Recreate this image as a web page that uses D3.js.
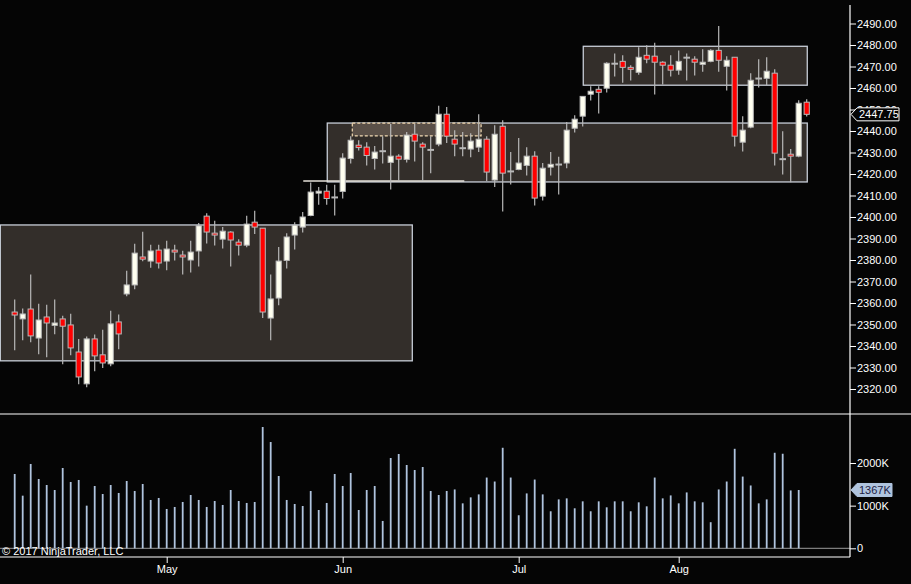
<!DOCTYPE html>
<html>
<head>
<meta charset="utf-8">
<script src="https://cdn.jsdelivr.net/npm/d3@7"></script>
<style>
body { margin: 0; background: #050505; }
svg { display: block; font-family: Arial, "Liberation Sans", sans-serif; }
</style>
</head>
<body>
<script>
// daily ES bars, Apr 3 .. Aug 23 2017
var opens = [2355.8,2352.6,2357.2,2343.7,2353.5,2349.6,2352.6,2349.8,2337.2,2322.4,
 2343.3,2335.9,2331.7,2351.2,2364.2,2368.4,2381.4,2379.5,2384.6,2379.5,
 2384.6,2382.3,2380.0,2384.2,2400.4,2392.5,2389.7,2393.0,2388.3,2386.9,
 2397.6,2394.8,2353.0,2362.3,2379.8,2391.6,2395.3,2400.7,2411.1,2412.0,
 2409.1,2411.9,2427.2,2433.4,2432.5,2427.2,2430.6,2425.4,2428.3,2426.8,
 2438.5,2433.9,2431.2,2433.9,2447.8,2436.2,2432.0,2431.6,2432.5,2436.2,
 2417.2,2442.2,2421.2,2422.1,2424.0,2428.3,2409.7,2423.2,2424.4,2425.1,
 2441.3,2446.9,2457.1,2459.4,2459.9,2471.3,2472.4,2469.6,2467.3,2475.2,
 2474.8,2472.0,2470.6,2468.3,2474.1,2473.4,2471.0,2472.4,2477.5,2470.1,
 2474.3,2434.8,2441.8,2464.4,2464.5,2466.9,2426.9,2429.2,2428.3,2453.4]
var highs = [2361.6,2357.4,2373.2,2359.7,2359.2,2361.6,2354.1,2355.0,2343.3,2344.4,
 2345.3,2347.6,2356.4,2354.6,2375.0,2387.6,2393.1,2387.1,2387.1,2389.0,
 2387.1,2384.3,2389.0,2397.2,2401.8,2398.2,2395.3,2393.4,2389.7,2400.6,
 2402.9,2394.8,2373.2,2386.0,2392.5,2397.6,2402.3,2416.0,2413.9,2415.0,
 2415.0,2429.7,2437.6,2435.7,2434.8,2433.0,2437.6,2443.2,2429.2,2439.5,
 2443.2,2434.8,2437.6,2451.7,2451.2,2440.4,2439.5,2439.0,2447.8,2437.6,
 2442.7,2445.0,2430.2,2436.7,2432.5,2430.6,2425.1,2430.2,2428.0,2444.2,
 2447.3,2456.1,2460.8,2460.8,2472.0,2476.1,2475.2,2470.6,2478.9,2479.9,
 2481.0,2472.4,2475.2,2477.5,2476.1,2474.8,2478.0,2478.0,2488.8,2474.8,
 2474.3,2446.9,2466.9,2473.4,2474.3,2468.7,2439.9,2431.6,2454.3,2454.8]
var lows = [2338.0,2342.7,2341.7,2336.2,2334.8,2345.5,2331.5,2335.7,2322.2,2320.8,
 2328.3,2329.8,2330.6,2338.5,2363.1,2366.4,2379.4,2376.4,2376.1,2375.2,
 2379.8,2373.3,2374.2,2377.0,2387.7,2386.8,2385.4,2377.0,2382.1,2385.9,
 2392.1,2353.0,2342.7,2358.9,2376.1,2384.9,2392.8,2400.3,2405.7,2405.7,
 2400.7,2408.6,2424.9,2430.9,2424.0,2422.1,2424.9,2412.8,2416.7,2425.4,
 2425.8,2416.7,2420.3,2432.9,2434.4,2428.3,2428.3,2427.8,2430.2,2416.7,
 2413.9,2402.6,2415.1,2421.7,2419.3,2405.4,2407.7,2419.3,2410.5,2422.7,
 2439.3,2442.1,2454.2,2448.1,2457.9,2465.3,2462.5,2463.5,2466.2,2471.5,
 2457.0,2461.6,2465.3,2466.2,2463.5,2465.8,2467.6,2472.0,2467.6,2458.8,
 2432.8,2430.5,2441.3,2460.2,2461.3,2424.0,2419.8,2416.2,2427.8,2446.7]
var closes = [2354.4,2354.9,2344.7,2352.1,2350.7,2350.7,2349.2,2339.1,2325.6,2343.3,
 2335.4,2332.1,2350.3,2345.6,2368.4,2383.2,2380.4,2384.2,2378.6,2385.1,
 2383.7,2381.4,2383.7,2395.9,2393.0,2391.6,2393.4,2389.3,2386.9,2396.7,
 2395.3,2355.8,2361.9,2379.5,2390.7,2396.2,2400.0,2411.6,2412.0,2408.6,
 2409.1,2427.4,2435.7,2432.3,2428.6,2430.2,2430.6,2428.3,2426.9,2438.1,
 2435.3,2432.5,2431.2,2447.8,2437.6,2433.9,2432.0,2435.3,2436.2,2420.9,
 2438.5,2420.4,2421.2,2425.1,2428.3,2408.8,2422.7,2424.5,2424.4,2440.4,
 2445.5,2456.1,2458.5,2458.0,2471.5,2471.3,2469.6,2468.7,2474.3,2473.4,
 2472.0,2470.6,2468.3,2472.4,2474.1,2472.0,2472.0,2477.5,2472.9,2472.9,
 2437.6,2440.4,2463.6,2464.4,2467.8,2429.7,2426.9,2428.3,2452.9,2447.75]
// volume in thousands (no bar drawn for the last session)
var volumes = [1742,1234,1977,1625,1484,1367,1883,1555,1602,1000,
 1461,1273,1484,1297,1578,1344,1508,1133,1180,922,
 969,1086,1250,1133,969,1109,1016,1367,1109,1063,
 1086,2844,2492,1695,1133,1039,992,1344,898,1063,
 1742,1461,1766,898,1367,1461,641,2117,2211,1953,
 1836,1906,1344,1250,1344,1380,1054,1194,1264,1659,
 1566,2357,1659,775,1287,1612,1264,868,1147,1171,
 938,1101,868,1101,961,1101,1101,868,1078,984,
 1659,1171,1240,1054,1310,1101,1078,612,1380,1566,
 2333,1682,1473,1054,1147,2240,2217,1357,1367]

var monthLabels = ["May", "Jun", "Jul", "Aug"]
var monthBars = [19, 41, 63, 83]
var priceTicks = d3.range(2320, 2491, 10)
var volumeTicks = [0, 1000, 2000]

// drawn zones: bar index range and price range
var zones = [
  {x0: -1.8, x1: 49.7, top: 2396.3, bottom: 2333.1},
  {x0: 39.07, x1: 99.07, top: 2443.7, bottom: 2416.3},
  {x0: 71.07, x1: 99.07, top: 2479.4, bottom: 2461.3}
]
var dashedZone = {x0: 42.2, x1: 58.3, top: 2443.7, bottom: 2437.7}
var levelLine = {x0: 36.07, x1: 56.2, price: 2416.75}

var W = 911, H = 584
var axisX = 850

var svg = d3.select("body").append("svg")
    .attr("width", W)
    .attr("height", H)
svg.append("rect")
    .attr("width", W).attr("height", H)
    .attr("fill", "#050505")

var x = d3.scaleLinear().domain([0, 99]).range([14.7, 806.7])
var y = d3.scaleLinear().domain([2320, 2490]).range([389, 23.5])
var yv = d3.scaleLinear().domain([0, 2000]).range([548.3, 463])

// zones
svg.selectAll(".zone").data(zones).enter().append("rect")
    .attr("class", "zone")
    .attr("x", function(d){ return x(d.x0) })
    .attr("y", function(d){ return y(d.top) })
    .attr("width", function(d){ return x(d.x1) - x(d.x0) })
    .attr("height", function(d){ return y(d.bottom) - y(d.top) })
    .attr("fill", "#332e2a")
    .attr("stroke", "#c8ced8")
    .attr("stroke-width", 1.3)

svg.append("rect")
    .attr("x", x(dashedZone.x0))
    .attr("y", y(dashedZone.top))
    .attr("width", x(dashedZone.x1) - x(dashedZone.x0))
    .attr("height", y(dashedZone.bottom) - y(dashedZone.top))
    .attr("fill", "#5a5048")
    .attr("stroke", "#f3dcb4")
    .attr("stroke-width", 1.2)
    .attr("stroke-dasharray", "3,2")

svg.append("line")
    .attr("x1", x(levelLine.x0)).attr("x2", x(levelLine.x1))
    .attr("y1", y(levelLine.price)).attr("y2", y(levelLine.price))
    .attr("stroke", "#e6e2da")
    .attr("stroke-width", 1.3)

// candles
var bars = d3.range(opens.length)
var candle = svg.selectAll(".candle").data(bars).enter().append("g")
    .attr("class", "candle")
candle.append("line")
    .attr("x1", function(i){ return x(i) })
    .attr("x2", function(i){ return x(i) })
    .attr("y1", function(i){ return y(highs[i]) })
    .attr("y2", function(i){ return y(lows[i]) })
    .attr("stroke", "#b8b8b8")
    .attr("stroke-width", 1.2)
candle.filter(function(i){ return opens[i] != closes[i] }).append("rect")
    .attr("x", function(i){ return x(i) - 2.6 })
    .attr("y", function(i){ return y(Math.max(opens[i], closes[i])) })
    .attr("width", 5.2)
    .attr("height", function(i){ return Math.max(1.5, Math.abs(y(opens[i]) - y(closes[i]))) })
    .attr("fill", function(i){ return closes[i] > opens[i] ? "#fffff0" : "#ff0000" })
    .attr("stroke", "#b8b8b8")
    .attr("stroke-width", 1)
candle.filter(function(i){ return opens[i] == closes[i] }).append("line")
    .attr("x1", function(i){ return x(i) - 3.3 })
    .attr("x2", function(i){ return x(i) + 3.3 })
    .attr("y1", function(i){ return y(closes[i]) })
    .attr("y2", function(i){ return y(closes[i]) })
    .attr("stroke", "#b8b8b8")
    .attr("stroke-width", 2)

// volume
svg.append("line")
    .attr("x1", 0).attr("x2", axisX)
    .attr("y1", yv(0)).attr("y2", yv(0))
    .attr("stroke", "#9a9a9a")
svg.selectAll(".vol").data(volumes).enter().append("rect")
    .attr("class", "vol")
    .attr("x", function(d, i){ return x(i) - 0.9 })
    .attr("y", function(d){ return yv(d) })
    .attr("width", 1.8)
    .attr("height", function(d){ return yv(0) - yv(d) })
    .attr("fill", "#b0c4de")

// frame lines
svg.append("line")
    .attr("x1", 0).attr("x2", W).attr("y1", 414).attr("y2", 414)
    .attr("stroke", "#ffffff").attr("stroke-width", 1.2)
svg.append("line")
    .attr("x1", 0).attr("x2", axisX).attr("y1", 557).attr("y2", 557)
    .attr("stroke", "#ffffff").attr("stroke-width", 1.2)
svg.append("line")
    .attr("x1", axisX).attr("x2", axisX).attr("y1", 5).attr("y2", 557)
    .attr("stroke", "#ffffff").attr("stroke-width", 1.2)

// price axis
var pAxis = svg.append("g")
    .attr("transform", "translate(" + axisX + ",0)")
    .call(d3.axisRight(y).tickValues(priceTicks).tickSize(6).tickPadding(1)
          .tickFormat(d3.format(".2f")))
pAxis.select(".domain").remove()
pAxis.selectAll("line").attr("stroke", "#ffffff")
pAxis.selectAll("text").attr("fill", "#ffffff").attr("font-size", 11)
    .attr("font-family", "Arial, 'Liberation Sans', sans-serif")

// volume axis
var vAxis = svg.append("g")
    .attr("transform", "translate(" + axisX + ",0)")
    .call(d3.axisRight(yv).tickValues(volumeTicks).tickSize(6).tickPadding(1)
          .tickFormat(function(d){ return d == 0 ? "0" : d + "K" }))
vAxis.select(".domain").remove()
vAxis.selectAll("line").attr("stroke", "#ffffff")
vAxis.selectAll("text").attr("fill", "#ffffff").attr("font-size", 11)
    .attr("font-family", "Arial, 'Liberation Sans', sans-serif")

// month axis
var mAxis = svg.append("g")
    .attr("transform", "translate(0,557)")
    .call(d3.axisBottom(x).tickValues(monthBars).tickSize(6).tickPadding(2)
          .tickFormat(function(d, i){ return monthLabels[i] }))
mAxis.select(".domain").remove()
mAxis.selectAll("line").attr("stroke", "#ffffff")
mAxis.selectAll("text").attr("fill", "#ffffff").attr("font-size", 11)
    .attr("font-family", "Arial, 'Liberation Sans', sans-serif")

// last value markers
function marker(yy, w, label, fill, stroke, color){
    var g = svg.append("g")
    g.append("path")
        .attr("d", "M" + (axisX + 1) + "," + yy + "L" + (axisX + 7) + "," + (yy - 6.5) +
              "H" + (axisX + 7 + w) + "V" + (yy + 6.5) + "H" + (axisX + 7) + "Z")
        .attr("fill", fill)
        .attr("stroke", stroke)
        .attr("stroke-width", 1)
    g.append("text")
        .attr("x", axisX + 9)
        .attr("y", yy + 4)
        .attr("fill", color)
        .attr("font-size", 11)
        .text(label)
}
var lastClose = closes[closes.length - 1]
var lastVol = volumes[volumes.length - 1]
marker(y(lastClose), 42, d3.format(".2f")(lastClose), "#050505", "#ffffff", "#ffffff")
marker(yv(lastVol), 35, lastVol + "K", "#b0c4de", "#b0c4de", "#1c1c44")

svg.append("text")
    .attr("x", 2)
    .attr("y", 555)
    .attr("fill", "#ffffff")
    .attr("font-size", 11)
    .text("\u00a9 2017 NinjaTrader, LLC")
</script>
</body>
</html>
